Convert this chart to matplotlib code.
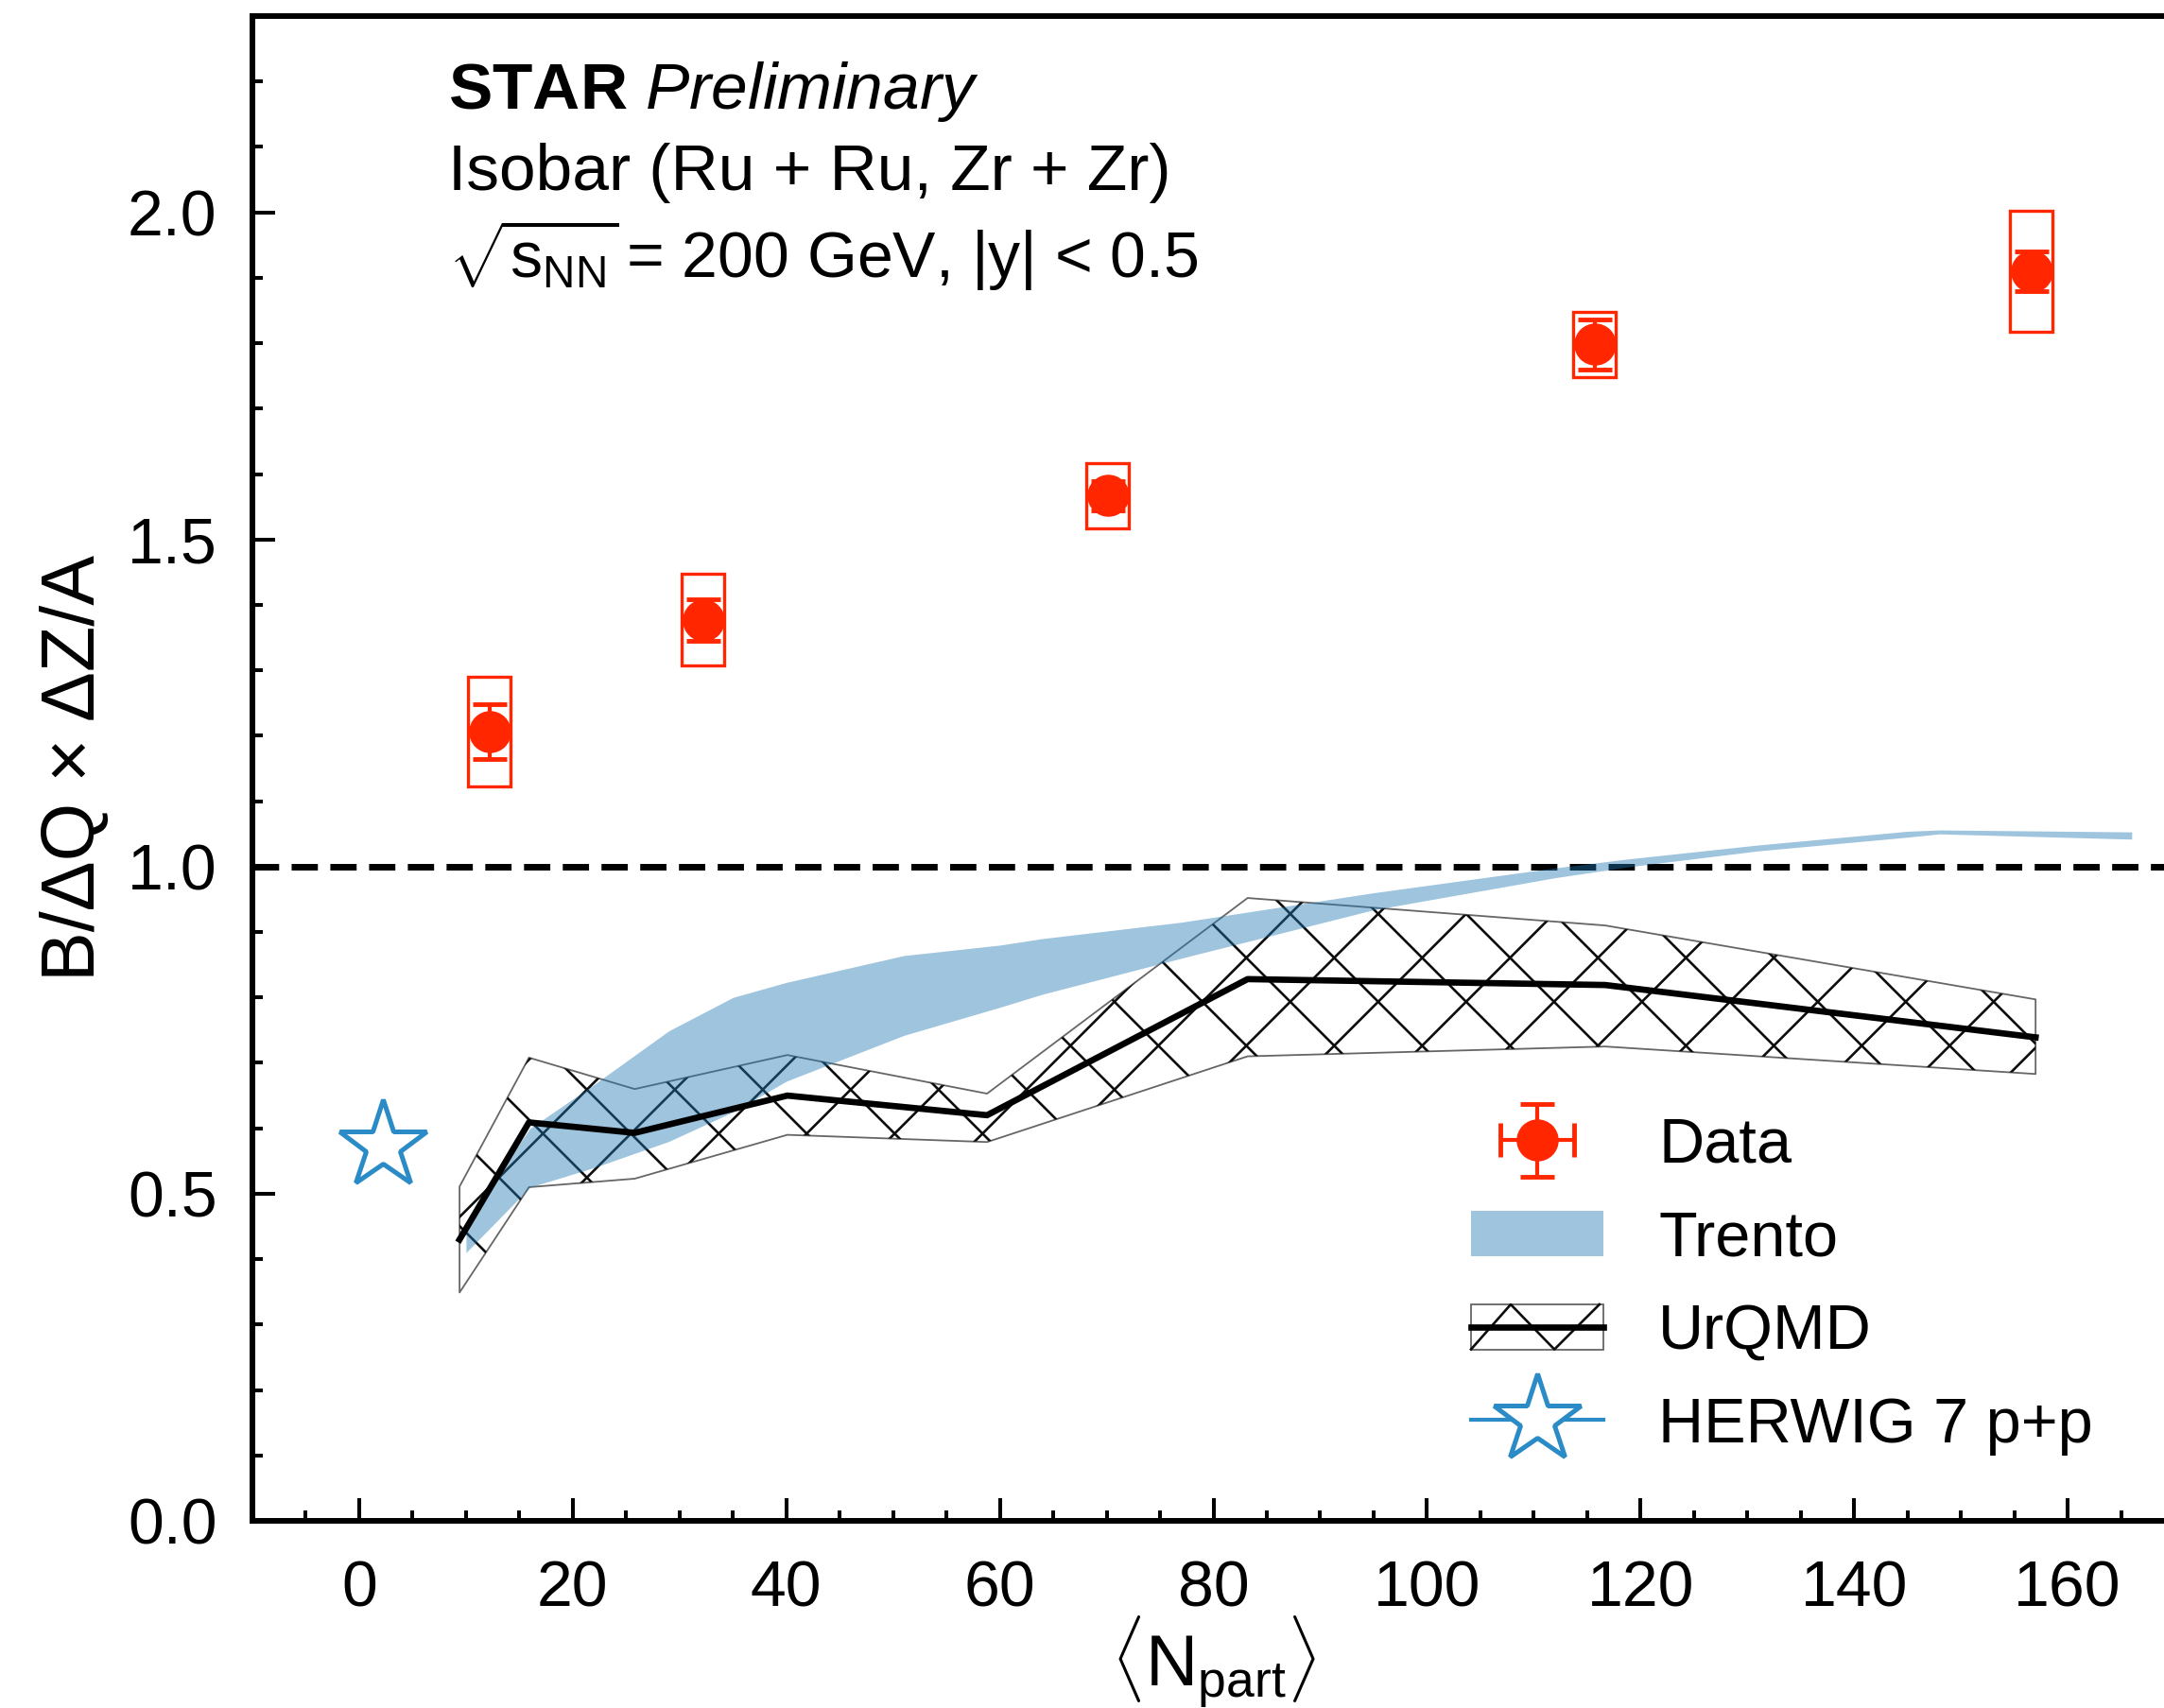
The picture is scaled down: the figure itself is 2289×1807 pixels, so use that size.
import numpy as np
import matplotlib
matplotlib.use('Agg')
import matplotlib.pyplot as plt
from matplotlib.patches import Rectangle, Patch
from matplotlib.lines import Line2D
from matplotlib.collections import LineCollection
from matplotlib.container import ErrorbarContainer
from matplotlib.legend_handler import HandlerBase, HandlerErrorbar
from matplotlib.transforms import IdentityTransform
from matplotlib.ticker import MultipleLocator, FormatStrFormatter

plt.rcParams['font.family'] = 'Liberation Sans'
plt.rcParams['mathtext.fontset'] = 'custom'
plt.rcParams['mathtext.rm'] = 'Liberation Sans'
plt.rcParams['mathtext.it'] = 'Liberation Sans:italic'
plt.rcParams['mathtext.bf'] = 'Liberation Sans:bold'

# STAR isobar data
npart = [12.2, 32.2, 70.1, 115.7, 156.6]
ratio = [1.206, 1.377, 1.567, 1.798, 1.910]
stat_err = [0.042, 0.032, 0.022, 0.038, 0.030]
sys_err = [0.084, 0.070, 0.050, 0.050, 0.093]

# Trento band
trento_x = [10, 13, 16, 22, 29, 35, 40, 51, 60, 64, 77, 95, 112, 119, 131, 145, 148, 166]
trento_hi = [0.45, 0.53, 0.60, 0.667, 0.749, 0.80, 0.823, 0.864, 0.88, 0.89, 0.915, 0.96,
             0.998, 1.012, 1.033, 1.054, 1.056, 1.053]
trento_lo = [0.41, 0.46, 0.51, 0.54, 0.58, 0.625, 0.672, 0.742, 0.785, 0.805, 0.86, 0.934,
             0.983, 1.0, 1.024, 1.045, 1.05, 1.042]

# UrQMD
urqmd_x = [9.4, 15.9, 25.8, 40.1, 58.8, 83.2, 116.7, 157.0]
urqmd_mid = [0.43, 0.609, 0.593, 0.650, 0.620, 0.828, 0.819, 0.739]
urqmd_hi = [0.511, 0.708, 0.660, 0.712, 0.653, 0.952, 0.910, 0.797]
urqmd_lo = [0.349, 0.510, 0.523, 0.590, 0.579, 0.710, 0.725, 0.683]

# HERWIG 7 p+p
herwig_x = [2.2]
herwig_y = [0.573]

red = '#ff2600'
blue = '#2b8bc6'
band_blue = '#1f77b4'

fig = plt.figure(figsize=(22.89, 18.07), dpi=100)
ax = fig.add_axes([267 / 2289, 198 / 1807, 2033 / 2289, 1592 / 1807])
ax.set_xlim(-10, 170)
ax.set_ylim(0, 2.3)

# UrQMD band with a sparse cross hatch
urqmd_band = ax.fill_between(urqmd_x, urqmd_lo, urqmd_hi, facecolor='none',
                             edgecolor='0.4', lw=1.3, zorder=2)
H = 1807
step = 93
segs = []
for c in np.arange(2112 - step * 45, 2112 + step * 45, step):
    segs.append([(c, 0), (c - H, H)])
for c in np.arange(524.6 - step * 45, 524.6 + step * 45, step):
    segs.append([(c, 0), (c + H, H)])
hatch = LineCollection(segs, colors='0.05', linewidths=1.9,
                       transform=IdentityTransform(), zorder=2)
ax.add_collection(hatch, autolim=False)
hatch.set_clip_path(urqmd_band.get_paths()[0], ax.transData)

# Trento
ax.fill_between(trento_x, trento_lo, trento_hi, color=band_blue, alpha=0.43, lw=0, zorder=3)

ax.plot(urqmd_x, urqmd_mid, color='k', lw=4.8, zorder=4)

ax.axhline(1.0, color='k', lw=5, ls=(0, (4.0, 1.9)), zorder=1)

ax.plot(herwig_x, herwig_y, ls='none', marker='*', ms=70, mfc='white',
        mec=blue, mew=3.6, zorder=5)

# data with systematic boxes
for xi, yi, si in zip(npart, ratio, sys_err):
    ax.add_patch(Rectangle((xi - 2, yi - si), 4, 2 * si, fill=False, ec=red, lw=2.4, zorder=6))
eb = ax.errorbar(npart, ratio, yerr=stat_err, fmt='o', color=red, ms=31,
                 elinewidth=3, capsize=13, capthick=3.5, zorder=7)

# axes style
ax.xaxis.set_major_locator(MultipleLocator(20))
ax.xaxis.set_minor_locator(MultipleLocator(5))
ax.yaxis.set_major_locator(MultipleLocator(0.5))
ax.yaxis.set_minor_locator(MultipleLocator(0.1))
ax.yaxis.set_major_formatter(FormatStrFormatter('%.1f'))
ax.tick_params(which='both', direction='in', top=False, right=False, labelsize=49, width=2.9)
ax.tick_params(which='major', length=17)
ax.tick_params(which='minor', length=8)
ax.tick_params(axis='y', which='major', pad=27)
ax.tick_params(axis='x', which='major', pad=29)
for s in ax.spines.values():
    s.set_linewidth(4.3)

ax.set_xlabel(r'$\langle\mathrm{N}_{\mathrm{part}}\rangle$', fontsize=55)
ax.xaxis.set_label_coords(0.5, -0.062)
ax.set_ylabel('B/ΔQ × ΔZ/A', fontsize=57)
ax.yaxis.set_label_coords(-0.074, 0.5)

fig.text(474 / 2289, 1692 / 1807, r'$\mathbf{STAR}\ \mathit{Preliminary}$', fontsize=50, va='baseline')
fig.text(474 / 2289, (1807 - 201) / 1807, 'Isobar (Ru + Ru, Zr + Zr)', fontsize=50, va='baseline')
fig.text(474 / 2289, (1807 - 294) / 1807, r'$\sqrt{\mathrm{s}_{\mathrm{NN}}}\,$= 200 GeV, |y| < 0.5',
         fontsize=49, va='baseline')


# legend
class UrqmdHandler(HandlerBase):
    def create_artists(self, legend, orig_handle, xdescent, ydescent, width, height, fontsize, trans):
        x0, y0 = -xdescent, -ydescent
        box = Rectangle((x0, y0), width, height, fill=False, ec='0.4', lw=1.3, transform=trans)
        zig = Line2D(x0 + width * np.array([0.0, 0.3, 0.63, 0.97]),
                     y0 + height * np.array([0.0, 1.0, 0.0, 1.0]),
                     color='0.05', lw=1.9, transform=trans)
        mid = Line2D([x0, x0 + width], [y0 + height / 2] * 2, color='k', lw=4.8, transform=trans)
        return [box, zig, mid]


data_handle = ErrorbarContainer(eb.lines, has_xerr=True, has_yerr=True)
trento_handle = Patch(facecolor=band_blue, alpha=0.43, lw=0)
urqmd_handle = Line2D([], [], color='k', lw=4.8)
herwig_handle = Line2D([], [], color=blue, lw=3, marker='*', ms=70, mfc='white', mec=blue, mew=3.6)

ax.legend([data_handle, trento_handle, urqmd_handle, herwig_handle],
          ['Data', 'Trento', 'UrQMD', 'HERWIG 7 p+p'],
          handler_map={data_handle: HandlerErrorbar(xerr_size=0.58),
                       urqmd_handle: UrqmdHandler()},
          loc='upper left', bbox_to_anchor=(1556 / 2289, 0.346),
          bbox_transform=fig.transFigure, frameon=False, fontsize=48,
          handlelength=2.1, handleheight=0.72, handletextpad=0.87,
          labelspacing=0.55, borderpad=0, borderaxespad=0, numpoints=1)

fig.savefig('out.png', dpi=100)
